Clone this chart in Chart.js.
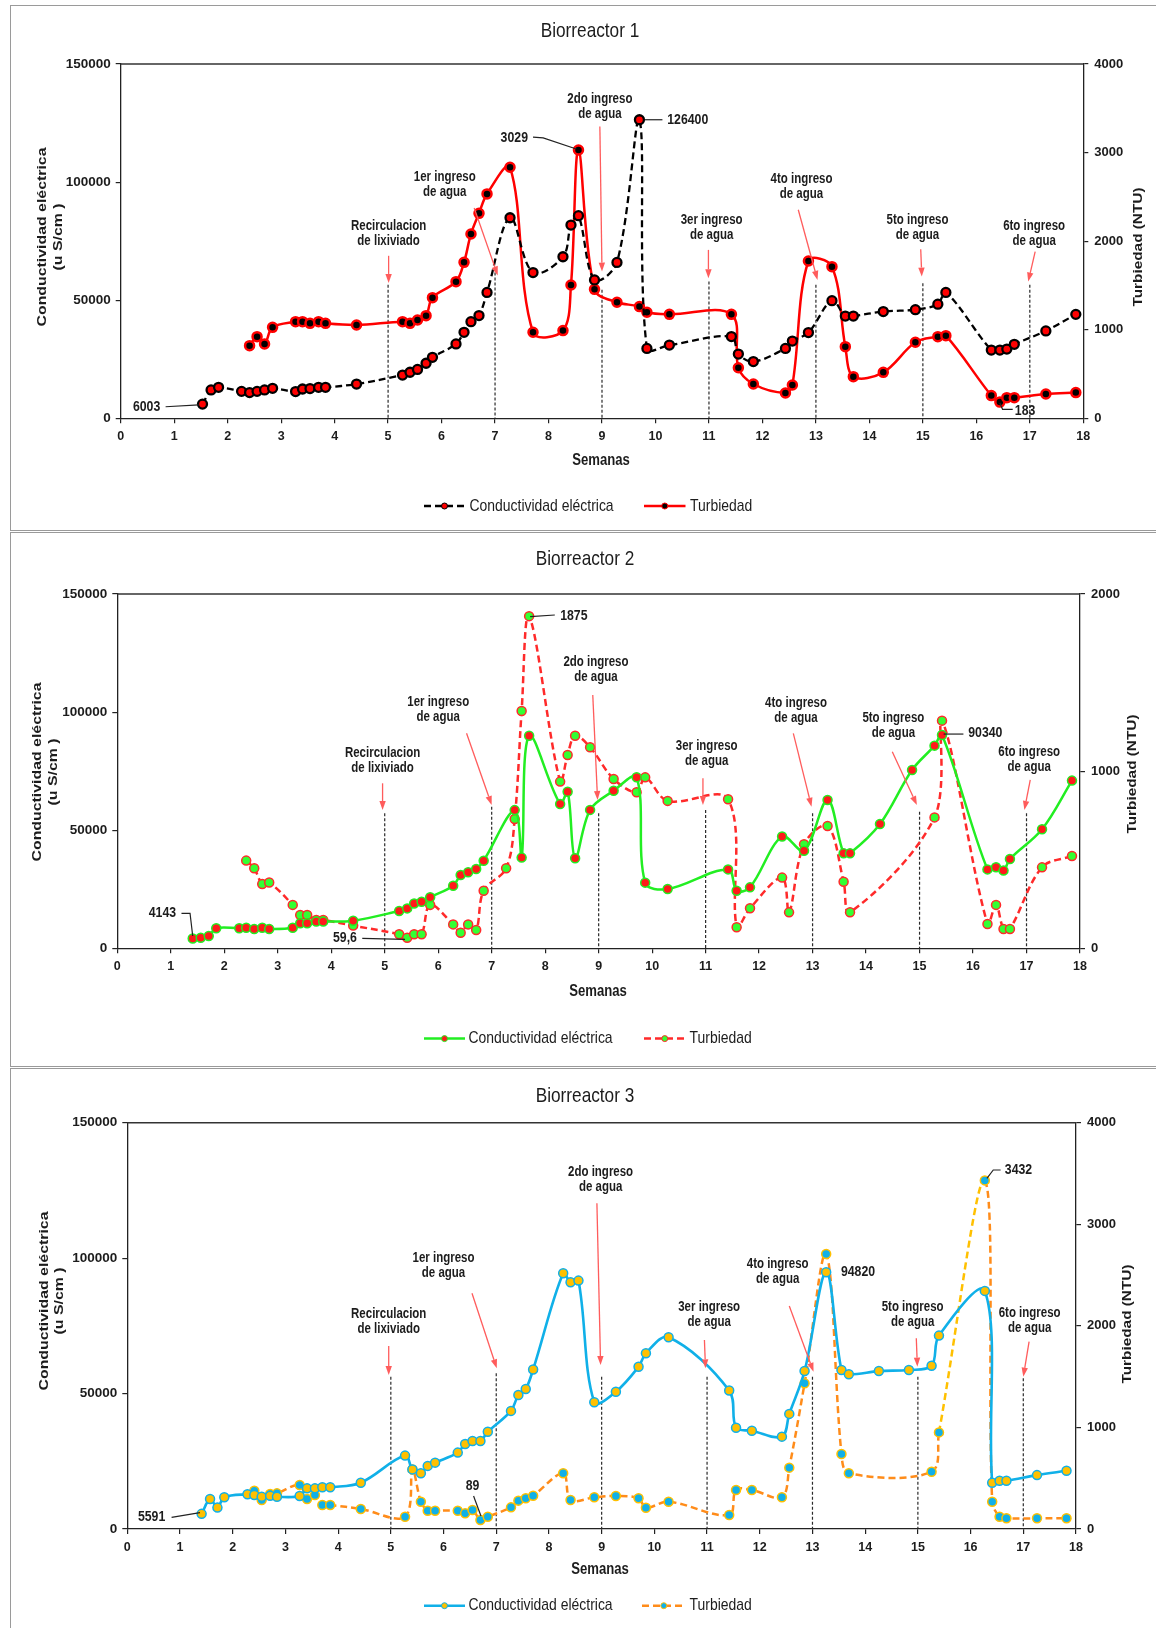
<!DOCTYPE html>
<html lang="es">
<head>
<meta charset="utf-8">
<title>Biorreactores: conductividad eléctrica y turbiedad</title>
<script src="https://cdn.jsdelivr.net/npm/chart.js@4.4.1/dist/chart.umd.min.js"></script>
<style>
  html, body { margin: 0; padding: 0; background: #fff; }
  body { position: relative; width: 1156px; height: 1628px; overflow: hidden; }
  .frame { position: absolute; border: 1px solid #9a9a9a; box-sizing: border-box; }
  canvas { position: absolute; left: 0; }
</style>
</head>
<body>
<div class="frame" style="left:10px;top:5px;width:1160px;height:526px"></div>
<div class="frame" style="left:10px;top:532px;width:1160px;height:535px"></div>
<div class="frame" style="left:10px;top:1068px;width:1160px;height:600px"></div>
<canvas id="c1" width="1156" height="530" style="top:0"></canvas>
<canvas id="c2" width="1156" height="536" style="top:530px"></canvas>
<canvas id="c3" width="1156" height="562" style="top:1066px"></canvas>
<script>
// ---------- Biorreactor 1 ----------
const semanasCE1 = [1.53,1.69,1.83,2.26,2.41,2.55,2.69,2.84,3.27,3.40,3.54,3.70,3.83,4.41,5.27,5.41,5.55,5.71,5.83,6.27,6.42,6.55,6.70,6.85,7.28,7.71,8.27,8.42,8.56,8.86,9.28,9.70,9.84,10.26,11.42,11.55,11.83,12.43,12.56,12.86,13.30,13.55,13.70,14.26,14.86,15.28,15.43,16.28,16.44,16.57,16.71,17.30,17.86];
const conductividad1 = [6003,12000,13100,11400,10900,11400,12000,12700,11300,12400,12600,13100,13100,14500,18300,19500,20700,23300,25800,31500,36400,40900,43500,53300,84900,61700,68400,81800,85800,58600,66000,126400,29600,31000,34600,27200,24000,29600,32700,36300,49800,43300,43300,45200,46000,48300,53300,28900,28900,29300,31300,37000,44000];
const semanasTurb1 = [2.41,2.55,2.69,2.84,3.27,3.40,3.54,3.70,3.83,4.41,5.27,5.41,5.55,5.71,5.83,6.27,6.42,6.55,6.70,6.85,7.28,7.71,8.27,8.42,8.56,8.86,9.28,9.70,9.84,10.26,11.42,11.55,11.83,12.43,12.56,12.86,13.30,13.55,13.70,14.26,14.86,15.28,15.43,16.28,16.44,16.57,16.71,17.30,17.86];
const turbiedad1 = [820,922,839,1027,1091,1091,1072,1091,1072,1054,1091,1072,1110,1159,1362,1543,1761,2081,2314,2533,2834,971,990,1505,3029,1456,1310,1261,1197,1174,1174,571,387,286,376,1776,1712,809,470,519,858,922,933,256,183,233,233,275,290];

// ---------- Biorreactor 2 ----------
const semanasCE2 = [1.41,1.56,1.71,1.85,2.28,2.41,2.56,2.71,2.84,3.28,3.42,3.55,3.72,3.85,4.41,5.27,5.42,5.55,5.69,5.85,6.28,6.42,6.56,6.71,6.85,7.43,7.56,7.70,8.28,8.42,8.56,8.84,9.28,9.71,9.87,10.29,11.42,11.58,11.83,12.43,12.84,13.28,13.58,13.70,14.26,14.86,15.28,15.42,16.27,16.43,16.57,16.69,17.29,17.85];
const conductividad2 = [4143,4500,5200,8500,8500,8700,8200,8700,8200,8700,10600,10600,11300,11300,11700,15800,16900,19000,19700,21600,26500,31000,32200,33600,37100,58500,38400,90000,61100,66300,38100,58600,66700,72400,27800,25100,33400,24400,25800,47300,41300,62800,40200,40200,52600,75500,85800,90340,33400,34300,32900,37800,50400,71000];
const semanasTurb2 = [2.41,2.56,2.71,2.84,3.28,3.42,3.55,3.72,3.85,4.41,5.27,5.42,5.55,5.69,5.85,6.28,6.42,6.56,6.71,6.85,7.27,7.43,7.56,7.70,8.28,8.42,8.56,8.84,9.28,9.71,9.87,10.29,11.42,11.58,11.83,12.43,12.56,12.84,13.28,13.58,13.70,15.28,15.42,16.27,16.43,16.57,16.69,17.29,17.85];
const turbiedad2 = [495,452,363,371,245,188,188,160,160,128,79,59.6,79,79,245,135,88,135,103,325,452,730,1340,1875,941,1091,1200,1135,956,881,965,832,841,119,226,399,203,587,690,376,203,739,1285,137,245,109,109,457,521];

// ---------- Biorreactor 3 ----------
const semanasCE3 = [1.41,1.57,1.71,1.84,2.28,2.41,2.55,2.71,2.84,3.27,3.41,3.56,3.70,3.85,4.43,5.27,5.41,5.57,5.70,5.84,6.27,6.41,6.55,6.70,6.84,7.28,7.42,7.56,7.70,8.27,8.41,8.56,8.86,9.27,9.70,9.84,10.27,11.42,11.55,11.85,12.42,12.56,12.85,13.26,13.55,13.69,14.26,14.83,15.26,15.40,16.27,16.41,16.55,16.68,17.26,17.82];
const conductividad3 = [5591,11070,7900,11700,12800,12550,11900,12300,11900,12200,15000,15000,15400,15400,17100,27100,22000,20600,23300,24500,28200,31400,32500,32500,35900,43600,49500,51700,58900,94400,91100,91700,46800,50700,59900,64900,70800,51100,37400,36300,34100,42500,58300,94820,58700,57100,58300,58700,60300,71400,87900,17100,17800,17800,19900,21500];
const semanasTurb3 = [2.41,2.55,2.71,2.84,3.27,3.41,3.56,3.70,3.85,4.43,5.27,5.41,5.57,5.70,5.84,6.27,6.41,6.55,6.70,6.84,7.28,7.42,7.56,7.70,8.27,8.41,8.86,9.27,9.70,9.84,10.27,11.42,11.55,11.85,12.42,12.56,12.85,13.26,13.55,13.69,15.26,15.40,16.27,16.41,16.55,16.68,17.26,17.82];
const turbiedad3 = [377,285,344,351,433,295,335,236,236,197,121,587,269,180,180,180,154,187,89,121,213,279,302,328,548,285,312,325,302,210,269,138,384,384,312,604,1434,2707,738,548,564,951,3432,269,121,105,105,105];

// ---------- Axes and events shared by the three panels ----------
const semanaTicks = [0,1,2,3,4,5,6,7,8,9,10,11,12,13,14,15,16,17,18];
const conductividadTicks = [0,50000,100000,150000];
const turbiedadTicks4000 = [0,1000,2000,3000,4000];
const turbiedadTicks2000 = [0,1000,2000];
const ingresos = [5,7,9,11,13,15,17];
const ingresoTextos = [
  ['Recirculacion','de lixiviado'],
  ['1er ingreso','de agua'],
  ['2do ingreso','de agua'],
  ['3er ingreso','de agua'],
  ['4to ingreso','de agua'],
  ['5to ingreso','de agua'],
  ['6to ingreso','de agua']
];
const serieNombres = ['Conductividad eléctrica','Turbiedad'];

const SANS = '"Liberation Sans",Arial,sans-serif';
const SQUEEZE = 0.82;           // horizontal squeeze giving a narrow face
const INK = '#1c1c1c';

// ---------- Panel layouts (canvas pixels; annotation anchors in [semana, uS/cm]) ----------
const layout1 = {
  canvasH: 530, area: { left: 120.7, right: 1083.3, top: 64, bottom: 418.3 },
  title: ['Biorreactor 1', 590, 31], xTitle: [601, 461],
  yTitle: { x: [42.6, 58], y: 237 }, y1Title: { x: 1138, y: 247 },
  legend: { y: 506, items: [[424, 465, 469.5], [644, 685.5, 690]] },
  events: [
    { top: 56500, arrow: [[5.01, 68800], [5.01, 57300]], text: [5.01, 81500] },
    { top: 61700, arrow: [[6.61, 89000], [7.05, 60500]], text: [6.06, 101900] },
    { top: 54400, arrow: [[8.96, 123500], [9.0, 62100]], text: [8.96, 135200] },
    { top: 57900, arrow: [[10.99, 71300], [10.99, 59300]], text: [11.05, 83700] },
    { top: 56500, arrow: [[12.67, 88300], [13.03, 58600]], text: [12.73, 101300] },
    { top: 57200, arrow: [[14.96, 71600], [14.98, 60000]], text: [14.9, 83700] },
    { top: 56500, arrow: [[17.1, 70600], [16.97, 57900]], text: [17.08, 81200] }
  ],
  callouts: [
    { text: '6003', at: [0.74, 4900], align: 'right', leader: [[0.84, 4900], [1.46, 5700]] },
    { text: '3029', at: [7.36, 118900], align: 'center', leader: [[7.71, 119000], [7.9, 118700], [8.52, 114000]] },
    { text: '126400', at: [10.22, 126400], align: 'left', leader: [[9.80, 126400], [10.13, 126400]] },
    { text: '183', at: [16.72, 3220], align: 'left', leader: [[16.44, 6500], [16.49, 3800], [16.68, 3800]] }
  ]
};
const layout2 = {
  canvasH: 536, area: { left: 117.3, right: 1080, top: 64, bottom: 418.3 },
  title: ['Biorreactor 2', 585, 29], xTitle: [598, 462],
  yTitle: { x: [37, 53], y: 242 }, y1Title: { x: 1132, y: 244 },
  legend: { y: 508.6, items: [[424, 465, 468.5], [644, 685.5, 689.6]] },
  events: [
    { top: 57160, arrow: [[4.96, 69860], [4.96, 58560]], text: [4.96, 82560] },
    { top: 59960, arrow: [[6.53, 91030], [7.0, 60680]], text: [6.0, 104400] },
    { top: 57160, arrow: [[8.89, 107250], [8.98, 62790]], text: [8.95, 121350] },
    { top: 58560, arrow: [[10.95, 71980], [10.95, 60680]], text: [11.02, 85650] },
    { top: 57160, arrow: [[12.64, 91030], [12.98, 59960]], text: [12.69, 103730] },
    { top: 57850, arrow: [[14.49, 83240], [14.95, 60680]], text: [14.51, 97630] },
    { top: 57160, arrow: [[17.07, 71260], [16.96, 58560]], text: [17.05, 82980] }
  ],
  callouts: [
    { text: '4143', at: [1.10, 14820], align: 'right', leader: [[1.20, 14820], [1.36, 14820], [1.41, 5200]] },
    { text: '59,6', at: [4.48, 4234], align: 'right', leader: [[4.58, 4234], [5.38, 3810]] },
    { text: '1875', at: [8.28, 140700], align: 'left', leader: [[7.72, 140400], [8.18, 141100]] },
    { text: '90340', at: [15.91, 91030], align: 'left', leader: [[15.45, 90700], [15.82, 90700]] }
  ]
};
const layout3 = {
  canvasH: 562, area: { left: 127.3, right: 1076, top: 56.7, bottom: 463 },
  title: ['Biorreactor 3', 585, 30], xTitle: [600, 504],
  yTitle: { x: [44.7, 59], y: 235 }, y1Title: { x: 1127, y: 258 },
  legend: { y: 539.7, items: [[424, 465, 468.5], [642, 685.5, 689.6]] },
  events: [
    { top: 56230, arrow: [[4.96, 67560], [4.96, 56860]], text: [4.96, 79270] },
    { top: 57480, arrow: [[6.54, 87020], [7.01, 59330]], text: [6.0, 99940] },
    { top: 56230, arrow: [[8.91, 120250], [8.98, 60550]], text: [8.98, 131700] },
    { top: 56230, arrow: [[10.95, 69780], [10.97, 59330]], text: [11.04, 81850] },
    { top: 56230, arrow: [[12.56, 82330], [13.02, 58080]], text: [12.34, 97730] },
    { top: 56230, arrow: [[14.97, 70400], [14.99, 59940]], text: [14.9, 81850] },
    { top: 55640, arrow: [[17.11, 69150], [17.0, 56230]], text: [17.12, 79640] }
  ],
  callouts: [
    { text: '5591', at: [0.72, 4540], align: 'right', leader: [[0.84, 4320], [1.38, 6020]] },
    { text: '89', at: [6.55, 15880], align: 'center', leader: [[6.57, 12180], [6.71, 4800]] },
    { text: '94820', at: [13.54, 94780], align: 'left', leader: [] },
    { text: '3432', at: [16.65, 132540], align: 'left', leader: [[16.31, 129480], [16.43, 132540], [16.57, 132540]] }
  ]
};

function toPoints(xs, ys) { return xs.map((x, i) => ({ x, y: ys[i] })); }

// Horizontal text squeezed to a narrow width
function narrowText(ctx, str, x, y, font, align) {
  ctx.save();
  ctx.font = font;
  ctx.textAlign = align;
  ctx.textBaseline = 'middle';
  ctx.fillStyle = INK;
  ctx.translate(x, y);
  ctx.scale(SQUEEZE, 1);
  ctx.fillText(str, 0, 0);
  ctx.restore();
}

// Text rotated to read upwards, stretched along its length
function verticalText(ctx, str, cx, cy, font, stretch) {
  ctx.save();
  ctx.translate(cx, cy);
  ctx.rotate(-Math.PI / 2);
  ctx.scale(stretch, 1);
  ctx.font = font;
  ctx.textAlign = 'center';
  ctx.textBaseline = 'middle';
  ctx.fillStyle = INK;
  ctx.fillText(str, 0, 0);
  ctx.restore();
}

// Frame top edge, event markers, callouts, titles and legend
const decorPlugin = {
  id: 'decor',
  beforeDatasetsDraw(chart, _args, o) {
    const { ctx, chartArea: a } = chart;
    const X = chart.scales.x, Y = chart.scales.y;
    ctx.save();
    ctx.strokeStyle = '#333';
    ctx.lineWidth = 1.5;
    ctx.beginPath(); ctx.moveTo(a.left, a.top); ctx.lineTo(a.right, a.top); ctx.stroke();
    ctx.strokeStyle = '#2a2a2a';
    ctx.lineWidth = 1.2;
    ctx.setLineDash([3, 2]);
    ingresos.forEach((w, i) => {
      const px = X.getPixelForValue(w);
      ctx.beginPath();
      ctx.moveTo(px, Y.getPixelForValue(o.events[i].top));
      ctx.lineTo(px, a.bottom);
      ctx.stroke();
    });
    ctx.restore();
  },
  afterDatasetsDraw(chart, _args, o) {
    const { ctx } = chart;
    const X = chart.scales.x, Y = chart.scales.y;
    const P = ([w, v]) => [X.getPixelForValue(w), Y.getPixelForValue(v)];
    ctx.save();
    o.events.forEach((e, i) => {
      const [x0, y0] = P(e.arrow[0]);
      const [x1, y1] = P(e.arrow[1]);
      const ang = Math.atan2(y1 - y0, x1 - x0), hl = 9, hw = 3.2;
      const bx = x1 - hl * Math.cos(ang), by = y1 - hl * Math.sin(ang);
      ctx.strokeStyle = '#ff5c5c';
      ctx.fillStyle = '#ff5c5c';
      ctx.lineWidth = 1.3;
      ctx.beginPath(); ctx.moveTo(x0, y0); ctx.lineTo(bx, by); ctx.stroke();
      ctx.beginPath();
      ctx.moveTo(x1, y1);
      ctx.lineTo(bx + hw * Math.sin(ang), by - hw * Math.cos(ang));
      ctx.lineTo(bx - hw * Math.sin(ang), by + hw * Math.cos(ang));
      ctx.closePath(); ctx.fill();
      const [tx, ty] = P(e.text);
      narrowText(ctx, ingresoTextos[i][0], tx, ty, 'bold 14px ' + SANS, 'center');
      narrowText(ctx, ingresoTextos[i][1], tx, ty + 15, 'bold 14px ' + SANS, 'center');
    });
    o.callouts.forEach(c => {
      if (c.leader.length) {
        ctx.strokeStyle = '#222';
        ctx.lineWidth = 1.2;
        ctx.beginPath();
        c.leader.forEach((p, k) => { const [px, py] = P(p); k ? ctx.lineTo(px, py) : ctx.moveTo(px, py); });
        ctx.stroke();
      }
      const [tx, ty] = P(c.at);
      narrowText(ctx, c.text, tx, ty, 'bold 15px ' + SANS, c.align);
    });
    ctx.restore();
  },
  afterDraw(chart, _args, o) {
    const { ctx } = chart;
    ctx.save();
    narrowText(ctx, o.title[0], o.title[1], o.title[2], '21px ' + SANS, 'center');
    narrowText(ctx, 'Semanas', o.xTitle[0], o.xTitle[1], 'bold 16px ' + SANS, 'center');
    verticalText(ctx, 'Conductividad eléctrica', o.yTitle.x[0], o.yTitle.y, 'bold 13px ' + SANS, 1.22);
    verticalText(ctx, '(u S/cm )', o.yTitle.x[1], o.yTitle.y, 'bold 13px ' + SANS, 1.22);
    verticalText(ctx, 'Turbiedad (NTU)', o.y1Title.x, o.y1Title.y, 'bold 13px ' + SANS, 1.18);
    const ly = o.legend.y;
    o.legend.items.forEach(([x0, x1, tx], i) => {
      const ds = chart.data.datasets[i];
      ctx.strokeStyle = ds.borderColor;
      ctx.lineWidth = ds.borderWidth;
      ctx.setLineDash(ds.borderDash || []);
      ctx.beginPath(); ctx.moveTo(x0, ly); ctx.lineTo(x1, ly); ctx.stroke();
      ctx.setLineDash([]);
      ctx.beginPath(); ctx.arc((x0 + x1) / 2, ly, 3, 0, Math.PI * 2);
      ctx.fillStyle = ds.pointBackgroundColor; ctx.fill();
      ctx.lineWidth = 1; ctx.strokeStyle = ds.pointBorderColor; ctx.stroke();
      narrowText(ctx, ds.label, tx, ly, '17px ' + SANS, 'left');
    });
    ctx.restore();
  }
};

function buildChart(id, layout, datasets, turbTicks) {
  const a = layout.area;
  const axisGrid = { drawOnChartArea: false, tickLength: 5, color: '#222', lineWidth: 1.2 };
  const axisBorder = { color: '#222', width: 1.3 };
  return new Chart(document.getElementById(id), {
    type: 'line',
    data: { datasets },
    options: {
      responsive: false,
      animation: false,
      devicePixelRatio: 1,
      events: [],
      layout: { padding: { top: a.top, left: 0, right: 0, bottom: 0 }, autoPadding: false },
      elements: { line: { tension: 0.35 }, point: { radius: 4.5, borderWidth: 1.2 } },
      plugins: { legend: { display: false }, title: { display: false }, tooltip: { enabled: false }, decor: layout },
      scales: {
        x: {
          type: 'linear', min: 0, max: 18,
          afterBuildTicks: s => { s.ticks = semanaTicks.map(v => ({ value: v })); },
          ticks: { font: { family: SANS, size: 12.5, weight: 'bold' }, color: INK, padding: 6, maxRotation: 0, autoSkip: false },
          grid: axisGrid, border: axisBorder,
          afterFit: s => { s.height = layout.canvasH - a.bottom; }
        },
        y: {
          position: 'left', min: 0, max: 150000,
          afterBuildTicks: s => { s.ticks = conductividadTicks.map(v => ({ value: v })); },
          ticks: { font: { family: SANS, size: 13.5, weight: 'bold' }, color: INK, padding: 5, callback: v => String(v) },
          grid: axisGrid, border: axisBorder,
          afterFit: s => { s.width = a.left; }
        },
        y1: {
          position: 'right', min: 0, max: turbTicks[turbTicks.length - 1],
          afterBuildTicks: s => { s.ticks = turbTicks.map(v => ({ value: v })); },
          ticks: { font: { family: SANS, size: 13, weight: 'bold' }, color: INK, padding: 6, callback: v => String(v) },
          grid: axisGrid, border: axisBorder,
          afterFit: s => { s.width = 1156 - a.right; }
        }
      }
    },
    plugins: [decorPlugin]
  });
}

const DASH = [7, 4];

buildChart('c1', layout1, [
  { label: serieNombres[0], data: toPoints(semanasCE1, conductividad1), yAxisID: 'y',
    borderColor: '#000', borderWidth: 2.3, borderDash: DASH,
    pointBackgroundColor: '#ff0000', pointBorderColor: '#000' },
  { label: serieNombres[1], data: toPoints(semanasTurb1, turbiedad1), yAxisID: 'y1',
    borderColor: '#ff0000', borderWidth: 2.5,
    pointBackgroundColor: '#000', pointBorderColor: '#ff0000' }
], turbiedadTicks4000);

buildChart('c2', layout2, [
  { label: serieNombres[0], data: toPoints(semanasCE2, conductividad2), yAxisID: 'y',
    borderColor: '#22ee22', borderWidth: 2.5,
    pointBackgroundColor: '#ff1a1a', pointBorderColor: '#22ee22', pointBorderWidth: 1.5 },
  { label: serieNombres[1], data: toPoints(semanasTurb2, turbiedad2), yAxisID: 'y1',
    borderColor: '#ff2a2a', borderWidth: 2.5, borderDash: DASH,
    pointBackgroundColor: '#33ff33', pointBorderColor: '#ff2a2a', pointBorderWidth: 1.5 }
], turbiedadTicks2000);

const picoTurb3 = turbiedad3.indexOf(Math.max(...turbiedad3));
buildChart('c3', layout3, [
  { label: serieNombres[0], data: toPoints(semanasCE3, conductividad3), yAxisID: 'y',
    borderColor: '#10b0e8', borderWidth: 2.6,
    pointBackgroundColor: '#ffc000', pointBorderColor: '#10b0e8', pointBorderWidth: 1.5 },
  { label: serieNombres[1], data: toPoints(semanasTurb3, turbiedad3), yAxisID: 'y1',
    borderColor: '#ff8c1a', borderWidth: 2.5, borderDash: DASH,
    segment: { borderColor: c => (c.p1DataIndex === picoTurb3 ? '#ffc000' : undefined) },
    pointBackgroundColor: '#10b0e8', pointBorderColor: '#ffc000', pointBorderWidth: 1.5 }
], turbiedadTicks4000);
</script>
</body>
</html>
